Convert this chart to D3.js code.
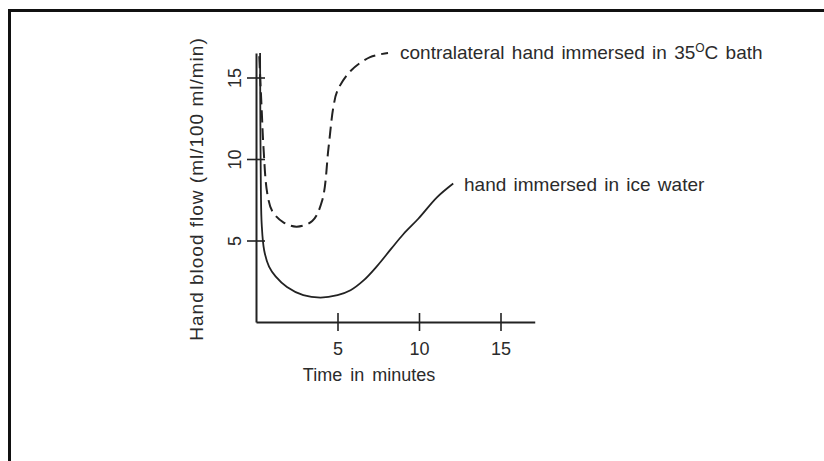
<!DOCTYPE html>
<html><head><meta charset="utf-8">
<script src="https://cdn.jsdelivr.net/npm/d3@7"></script>
<style>
html,body{margin:0;padding:0;background:#fff;}
svg{display:block;}
text{font-family:"Liberation Sans",Arial,sans-serif;fill:#2b2b2b;}
</style></head>
<body>
<svg id="chart" width="824" height="461"></svg>
<script>
// ---- data ----
const xTicks = [5, 10, 15];
const yTicks = [5, 10, 15];
const iceTime  = [0.25, 0.27, 0.3, 0.35, 0.5, 0.8, 1.2, 1.9, 2.9, 3.96, 5.0, 5.8, 6.6, 7.4, 8.3, 9.05, 9.97, 11.1, 12.1];
const iceFlow  = [16.5, 12, 8, 6.0, 4.4, 3.4, 2.8, 2.15, 1.65, 1.5, 1.65, 1.95, 2.55, 3.4, 4.5, 5.4, 6.35, 7.65, 8.5];
const warmTime = [0.2, 0.35, 0.46, 0.69, 1.0, 1.7, 2.5, 3.45, 4.06, 4.45, 4.75, 5.0, 5.8, 7.0, 8.1];
const warmFlow = [16.3, 13, 10.7, 7.9, 6.8, 6.1, 5.85, 6.2, 7.45, 10.7, 13.2, 14.2, 15.4, 16.25, 16.5];
const labelWarm = ["contralateral hand immersed in 35", "O", "C bath"];
const labelIce = "hand immersed in ice water";
const xTitle = "Time in minutes";
const yTitle = "Hand blood flow (ml/100 ml/min)";

const svg = d3.select("#chart");

// frame (left and top edges)
svg.append("path").attr("d","M9.5,461 V10.5 H824")
  .attr("fill","none").attr("stroke","#111").attr("stroke-width",3);

const x = d3.scaleLinear().domain([0, 17.1]).range([256, 256 + 17.1 * 16.3]);
const y = d3.scaleLinear().domain([0, 16.5]).range([322, 322 - 16.5 * 16.3]);

// x axis
const gx = svg.append("g").attr("transform", `translate(0,${y(0)})`)
  .call(d3.axisBottom(x).tickValues(xTicks).tickSizeOuter(0).tickSizeInner(9).tickPadding(11));
gx.select(".domain").attr("stroke","#222").attr("stroke-width",2);
gx.selectAll(".tick line").attr("y1",-9).attr("y2",9).attr("stroke","#222").attr("stroke-width",1.6);
gx.selectAll(".tick text").style("font-size","18px").attr("fill","#2b2b2b")
  .style("font-family","'Liberation Sans',Arial,sans-serif");

// y axis
const gy = svg.append("g").attr("transform", `translate(${x(0)},0)`)
  .call(d3.axisLeft(y).tickValues(yTicks).tickSizeOuter(0).tickSizeInner(9).tickPadding(6));
gy.select(".domain").attr("stroke","#222").attr("stroke-width",2);
gy.selectAll(".tick line").attr("x1",-9).attr("x2",9).attr("stroke","#222").attr("stroke-width",1.6);
gy.selectAll(".tick text")
  .style("font-size","18px").attr("fill","#2b2b2b")
  .style("font-family","'Liberation Sans',Arial,sans-serif")
  .attr("x", null).attr("dy", null)
  .attr("text-anchor","middle")
  .attr("transform","translate(-15,0) rotate(-90)");

// curves
const line = d3.line().x(d => x(d[0])).y(d => y(d[1])).curve(d3.curveCatmullRom.alpha(0.5));
const ice = iceTime.map((t,i) => [t, iceFlow[i]]);
const warm = warmTime.map((t,i) => [t, warmFlow[i]]);

svg.append("path").datum(ice).attr("d", line)
  .attr("fill","none").attr("stroke","#222").attr("stroke-width",1.8);
svg.append("path").datum(warm).attr("d", line)
  .attr("fill","none").attr("stroke","#222").attr("stroke-width",2)
  .attr("stroke-dasharray","12,6");

// labels
const tw = svg.append("text").attr("x",400).attr("y",59)
  .style("font-size","19px").style("word-spacing","2px");
tw.append("tspan").text(labelWarm[0]);
tw.append("tspan").attr("dy",-7).style("font-size","12px").text(labelWarm[1]);
tw.append("tspan").attr("dy",7).text(labelWarm[2]);

svg.append("text").attr("x",464).attr("y",191)
  .style("font-size","19px").style("word-spacing","2px").text(labelIce);

svg.append("text").attr("x",369).attr("y",381).attr("text-anchor","middle")
  .style("font-size","18px").style("word-spacing","3px").text(xTitle);

svg.append("text").attr("transform","translate(203,189) rotate(-90)")
  .attr("text-anchor","middle")
  .style("font-size","19px").style("letter-spacing","1px").text(yTitle);
</script>
</body></html>
